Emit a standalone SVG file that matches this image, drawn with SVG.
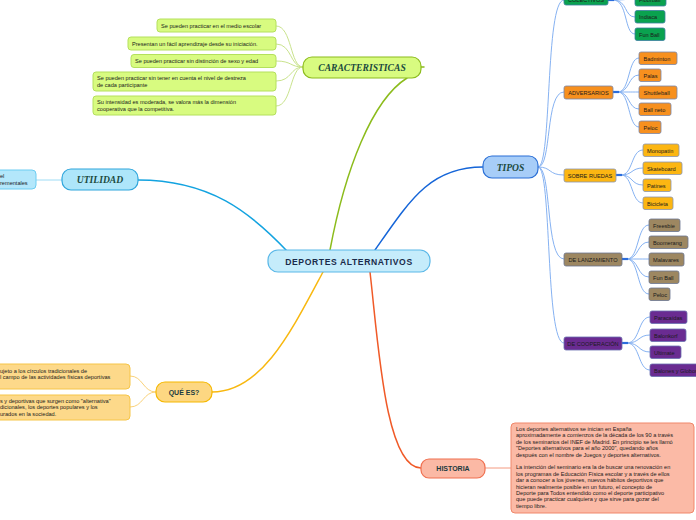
<svg xmlns="http://www.w3.org/2000/svg" width="696" height="520" viewBox="0 0 696 520">
<style>
.leaf{font-family:"Liberation Sans",Arial,sans-serif;font-size:5.6px;fill:#1b1b1b}
.cat{font-family:"Liberation Sans",Arial,sans-serif;font-size:5.6px;fill:#1b1b1b}
.main{font-family:"Liberation Serif","Times New Roman",serif;font-size:9.6px;font-style:italic;font-weight:bold;fill:#1b4a3e}
.mains{font-family:"Liberation Sans",Arial,sans-serif;font-size:7px;font-weight:bold;fill:#1b3a40}
.c{fill:none;stroke-linecap:round}
.gl{fill:#d8fb80;stroke:#b4e05c;stroke-width:1}
.yl{fill:#fdd98a;stroke:#f6c548;stroke-width:1}
.hl{fill:#fbbaa6;stroke:#f0876a;stroke-width:1}
.ul{fill:#b3e7fb;stroke:#6ccdf2;stroke-width:1}
.t1{fill:#0aa24f;stroke:#3a7fa0;stroke-width:0.8}
.t2{fill:#f7901e;stroke:#7a86a8;stroke-width:0.8}
.t3{fill:#fcb612;stroke:#8a96b0;stroke-width:0.8}
.t4{fill:#9d8761;stroke:#6a7590;stroke-width:0.8}
.t5{fill:#6a2b91;stroke:#6a70b0;stroke-width:0.8}
.tc{stroke:#86b2f2;stroke-width:1}
.ts{stroke:#2b6ddc;stroke-width:2.2}
</style>
<rect width="696" height="520" fill="#ffffff"/>
<g id="connectors">
  <path class="c" d="M138,180 C210,180 250,212 287,251" stroke="#13a3e0" stroke-width="1.5"/>
  <path class="c" d="M330,250 C345,170 372,100 407,78" stroke="#8cbc1c" stroke-width="1.5"/>
  <path class="c" d="M421,67 L424,67" stroke="#8cbc1c" stroke-width="1.5"/>
  <path class="c" d="M375,250 C410,200 430,167 483,167" stroke="#1565d8" stroke-width="1.5"/>
  <path class="c" d="M323,272 C292,330 262,392 212,392" stroke="#f8b810" stroke-width="1.5"/>
  <path class="c" d="M370,272 C378,340 385,468 421,468" stroke="#f05a28" stroke-width="1.5"/>
  <path class="c" d="M36,180 L62,180" stroke="#9edcf5" stroke-width="1"/>
  <path class="c" d="M485,468 L511,468" stroke="#f49a80" stroke-width="1"/>
  <g stroke="#c9e38c" stroke-width="1" fill="none">
    <path d="M303,67 C290,67 292,26 276,26"/>
    <path d="M303,67 C290,67 292,44 276,44"/>
    <path d="M303,67 C290,67 292,61 276,61"/>
    <path d="M303,67 C290,67 292,81 276,81"/>
    <path d="M303,67 C290,67 292,106 276,106"/>
  </g>
  <g stroke="#fad27a" stroke-width="1" fill="none">
    <path d="M156,392 C143,392 143,376 130,376"/>
    <path d="M156,392 C143,392 143,407 130,407"/>
  </g>
  <g class="tc" fill="none">
    <path d="M538,167 C552,167 545,0 564,0"/>
    <path d="M538,167 C552,167 545,92 564,92"/>
    <path d="M538,167 C552,167 548,175 564,175"/>
    <path d="M538,167 C552,167 545,259 564,259"/>
    <path d="M538,167 C552,167 545,343 564,343"/>
  </g>
  <g class="tc" fill="none">
    <path d="M613,0 C628,0 624,-1 635,-1"/>
    <path d="M613,0 C628,0 624,17 635,17"/>
    <path d="M613,0 C628,0 624,34 635,34"/>
    <path d="M618,92 C630,92 628,58 639,58"/>
    <path d="M618,92 C630,92 628,75 639,75"/>
    <path d="M618,92 C630,92 628,92 639,92"/>
    <path d="M618,92 C630,92 628,109 639,109"/>
    <path d="M618,92 C630,92 628,127 639,127"/>
    <path d="M621,175 C633,175 631,150 643,150"/>
    <path d="M621,175 C633,175 631,168 643,168"/>
    <path d="M621,175 C633,175 631,185 643,185"/>
    <path d="M621,175 C633,175 631,203 643,203"/>
    <path d="M627,259 C639,259 637,225 649,225"/>
    <path d="M627,259 C639,259 637,242 649,242"/>
    <path d="M627,259 C639,259 637,259 649,259"/>
    <path d="M627,259 C639,259 637,277 649,277"/>
    <path d="M627,259 C639,259 637,294 649,294"/>
    <path d="M627,343 C640,343 638,317 650,317"/>
    <path d="M627,343 C640,343 638,335 650,335"/>
    <path d="M627,343 C640,343 638,352 650,352"/>
    <path d="M627,343 C640,343 638,370 650,370"/>
  </g>
  <g class="ts" fill="none">
    <path d="M608,0 L614,0"/>
    <path d="M613,92 L619,92"/>
    <path d="M616,175 L622,175"/>
    <path d="M622,259 L628,259"/>
    <path d="M622,343 L628,343"/>
  </g>
</g>
<g id="central">
  <rect x="268" y="250" width="162" height="22" rx="10" fill="#c5ecfb" stroke="#5bb8e8" stroke-width="1.2"/>
  <text x="349" y="264.5" text-anchor="middle" font-family="'Liberation Sans',Arial,sans-serif" font-size="8.6" font-weight="bold" letter-spacing="0.6" fill="#1a2b4a">DEPORTES ALTERNATIVOS</text>
</g>
<g id="caracteristicas">
  <rect x="303" y="57" width="118" height="21" rx="9" fill="#d8fb80" stroke="#8cbc1c" stroke-width="1.2"/>
  <text class="main" x="362" y="71" text-anchor="middle">CARACTERISTICAS</text>
</g>
<g id="car1"><rect class="gl" x="157" y="19" width="119" height="13" rx="3"/><text class="leaf" x="161" y="27.5">Se pueden practicar en el medio escolar</text></g>
<g id="car2"><rect class="gl" x="128" y="37" width="148" height="13" rx="3"/><text class="leaf" x="132" y="45.5">Presentan un fácil aprendizaje desde su iniciación.</text></g>
<g id="car3"><rect class="gl" x="131" y="54.5" width="145" height="13" rx="3"/><text class="leaf" x="135" y="63">Se pueden practicar sin distinción de sexo y edad</text></g>
<g id="car4"><rect class="gl" x="93" y="72" width="183" height="19" rx="3"/><text class="leaf" x="97" y="80">Se pueden practicar sin tener en cuenta el nivel de destreza</text><text class="leaf" x="97" y="87">de cada participante</text></g>
<g id="car5"><rect class="gl" x="93" y="96" width="183" height="19" rx="3"/><text class="leaf" x="97" y="104">Su intensidad es moderada, se valora más la dimensión</text><text class="leaf" x="97" y="111">cooperativa que la competitiva.</text></g>
<g id="utilidad">
  <rect x="62" y="169" width="76" height="21" rx="9" fill="#aee6fa" stroke="#2fa6dc" stroke-width="1.2"/>
  <text class="main" x="100" y="183" text-anchor="middle">UTILIDAD</text>
</g>
<g id="util1"><rect class="ul" x="-5" y="170" width="41" height="19" rx="4"/><text class="leaf" x="0" y="178">el</text><text class="leaf" x="0" y="185">rementales</text></g>
<g id="quees">
  <rect x="156" y="382" width="56" height="20" rx="9" fill="#fdd782" stroke="#f5b800" stroke-width="1.2"/>
  <text class="mains" x="184" y="395" text-anchor="middle">QUÉ ES?</text>
</g>
<g id="que1"><rect class="yl" x="-5" y="364" width="135" height="25" rx="4"/><text class="leaf" x="0" y="372.5">ujeto a los círculos tradicionales de</text><text class="leaf" x="0" y="379">l campo de las actividades físicas deportivas</text></g>
<g id="que2"><rect class="yl" x="-5" y="395" width="135" height="25" rx="4"/><text class="leaf" x="0" y="402.5">s y deportivas que surgen como "alternativa"</text><text class="leaf" x="0" y="409">dicionales, los deportes populares y los</text><text class="leaf" x="0" y="415.5">urados en la sociedad.</text></g>
<g id="tipos">
  <rect x="483" y="156" width="55" height="22" rx="9" fill="#a7cdf8" stroke="#2a6fd6" stroke-width="1.2"/>
  <text class="main" x="510.5" y="170.5" text-anchor="middle">TIPOS</text>
</g>
<g id="colectivos"><rect class="t1" x="564" y="-6" width="44" height="11" rx="2"/><text class="cat" x="586" y="2" text-anchor="middle">COLECTIVOS</text></g>
<g id="col1"><rect class="t1" x="635" y="-6" width="31" height="12" rx="2"/><text class="leaf" x="639" y="2">Floorball</text></g>
<g id="col2"><rect class="t1" x="635" y="10.5" width="30" height="12.5" rx="2"/><text class="leaf" x="639" y="19">Indiaca</text></g>
<g id="col3"><rect class="t1" x="635" y="28" width="30" height="12.5" rx="2"/><text class="leaf" x="639" y="36.5">Fun Ball</text></g>
<g id="adversarios"><rect class="t2" x="564" y="86" width="49" height="13" rx="2"/><text class="cat" x="588.5" y="94.5" text-anchor="middle">ADVERSARIOS</text></g>
<g id="adv1"><rect class="t2" x="639" y="52" width="38" height="12.5" rx="2"/><text class="leaf" x="643.5" y="60.5">Badminton</text></g>
<g id="adv2"><rect class="t2" x="639" y="69" width="22" height="12.5" rx="2"/><text class="leaf" x="643.5" y="77.5">Palas</text></g>
<g id="adv3"><rect class="t2" x="639" y="86" width="38" height="13" rx="2"/><text class="leaf" x="643.5" y="94.5">Shuttleball</text></g>
<g id="adv4"><rect class="t2" x="639" y="103" width="32" height="12.5" rx="2"/><text class="leaf" x="643.5" y="111.5">Ball neto</text></g>
<g id="adv5"><rect class="t2" x="639" y="121" width="22" height="12.5" rx="2"/><text class="leaf" x="643.5" y="129.5">Peloc</text></g>
<g id="ruedas"><rect class="t3" x="564" y="169" width="52" height="13" rx="2"/><text class="cat" x="590" y="177.5" text-anchor="middle">SOBRE RUEDAS</text></g>
<g id="rue1"><rect class="t3" x="643" y="144" width="36" height="12.5" rx="2"/><text class="leaf" x="647" y="152.5">Monopatín</text></g>
<g id="rue2"><rect class="t3" x="643" y="162" width="39" height="12.5" rx="2"/><text class="leaf" x="647" y="170.5">Skateboard</text></g>
<g id="rue3"><rect class="t3" x="643" y="179" width="28" height="12.5" rx="2"/><text class="leaf" x="647" y="187.5">Patines</text></g>
<g id="rue4"><rect class="t3" x="643" y="197" width="30" height="12.5" rx="2"/><text class="leaf" x="647" y="205.5">Bicicleta</text></g>
<g id="lanzamiento"><rect class="t4" x="564" y="253" width="58" height="13" rx="2"/><text class="cat" x="593" y="261.5" text-anchor="middle">DE LANZAMIENTO</text></g>
<g id="lan1"><rect class="t4" x="649" y="219" width="31" height="12.5" rx="2"/><text class="leaf" x="653" y="227.5">Freesbie</text></g>
<g id="lan2"><rect class="t4" x="649" y="236" width="39" height="12.5" rx="2"/><text class="leaf" x="653" y="244.5">Boomerang</text></g>
<g id="lan3"><rect class="t4" x="649" y="253" width="35" height="13" rx="2"/><text class="leaf" x="653" y="261.5">Malavares</text></g>
<g id="lan4"><rect class="t4" x="649" y="271" width="30" height="12.5" rx="2"/><text class="leaf" x="653" y="279.5">Fun Ball</text></g>
<g id="lan5"><rect class="t4" x="649" y="288" width="21" height="12.5" rx="2"/><text class="leaf" x="653" y="296.5">Peloc</text></g>
<g id="cooperacion"><rect class="t5" x="564" y="337" width="58" height="13" rx="2"/><text class="cat" x="593" y="345.5" text-anchor="middle">DE COOPERACIÓN</text></g>
<g id="coo1"><rect class="t5" x="650" y="311" width="37" height="12.5" rx="2"/><text class="leaf" x="654" y="319.5">Paracaídas</text></g>
<g id="coo2"><rect class="t5" x="650" y="329" width="36" height="12.5" rx="2"/><text class="leaf" x="654" y="337.5">Balonkorf</text></g>
<g id="coo3"><rect class="t5" x="650" y="346" width="31" height="12.5" rx="2"/><text class="leaf" x="654" y="354.5">Ultimate</text></g>
<g id="coo4"><rect class="t5" x="650" y="364" width="52" height="12.5" rx="2"/><text class="leaf" x="654" y="372.5">Balones y Globos</text></g>
<g id="historia">
  <rect x="421" y="459" width="64" height="19" rx="8" fill="#fbb9a5" stroke="#f07050" stroke-width="1.2"/>
  <text class="mains" x="453" y="471" text-anchor="middle">HISTORIA</text>
</g>
<g id="hist1">
  <rect class="hl" x="511" y="423" width="183" height="90" rx="4"/>
  <text class="leaf" x="516">
    <tspan x="516" y="431">Los deportes alternativos se inician en España</tspan>
    <tspan x="516" y="437.4">aproximadamente a comienzos de la década de los 90 a través</tspan>
    <tspan x="516" y="443.8">de los seminarios del INEF de Madrid. En principio se les llamó</tspan>
    <tspan x="516" y="450.2">"Deportes alternativos para el año 2000", quedando años</tspan>
    <tspan x="516" y="456.6">después con el nombre de Juegos y deportes alternativos.</tspan>
    <tspan x="516" y="469.4">La intención del seminario era la de buscar una renovación en</tspan>
    <tspan x="516" y="475.8">los programas de Educación Física escolar y a través de ellos</tspan>
    <tspan x="516" y="482.2">dar a conocer a los jóvenes, nuevos hábitos deportivos que</tspan>
    <tspan x="516" y="488.6">hicieran realmente posible en un futuro, el concepto de</tspan>
    <tspan x="516" y="495">Deporte para Todos entendido como el deporte participativo</tspan>
    <tspan x="516" y="501.4">que puede practicar cualquiera y que sirve para gozar del</tspan>
    <tspan x="516" y="507.8">tiempo libre.</tspan>
  </text>
</g>
</svg>
